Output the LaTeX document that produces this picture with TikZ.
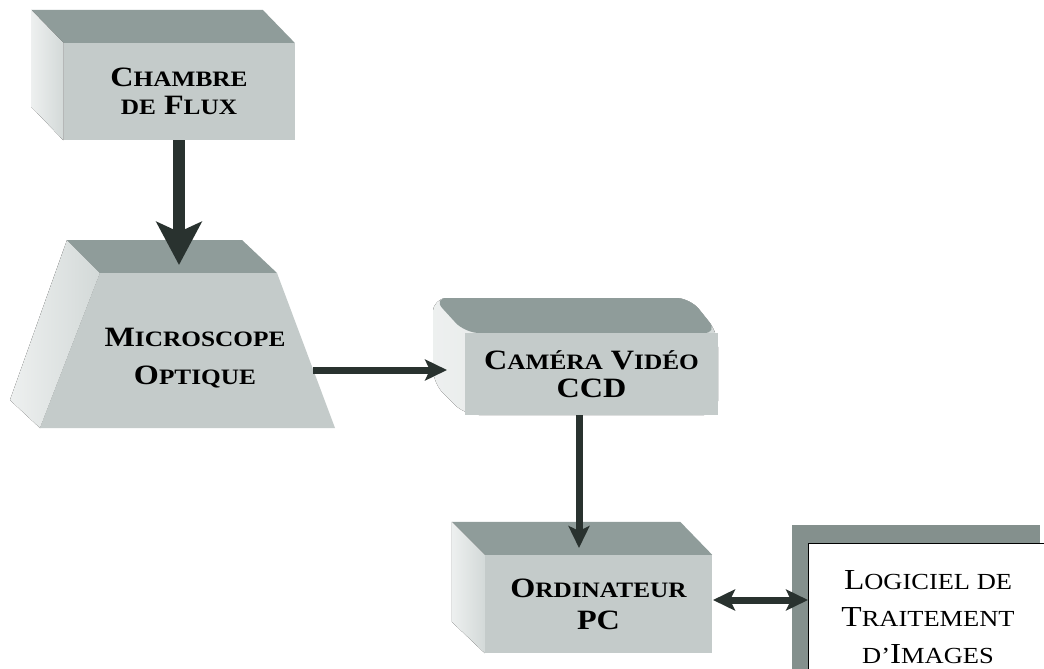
\documentclass[tikz,border=0pt]{standalone}
\usepackage{fontspec}
\newfontfamily\boxfont{Liberation Serif}[FakeStretch=1.15]
\usepackage{xcolor}
\usetikzlibrary{positioning}
\usetikzlibrary{arrows.meta}
\definecolor{frontgray}{HTML}{C4CBCA}
\definecolor{topgray}{HTML}{8F9C9A}
\definecolor{sidegray}{HTML}{D3D9D8}
\definecolor{arrowgray}{HTML}{29322F}
\definecolor{shadowgray}{HTML}{84908D}
\newcommand{\sk}[1]{{\fontsize{22}{30}\selectfont #1}}
\newcommand{\lsk}[1]{{\fontsize{23}{37}\selectfont #1}}
\tikzset{boxface/.style={fill=frontgray, inner sep=0pt, align=center,
font=\boxfont\bfseries\fontsize{28}{28}\selectfont},
topface/.style={fill=topgray},
sideface/.style={left color=sidegray!40!white, right color=sidegray},
flow/.style={draw=arrowgray, line width=7pt, -{Stealth[length=22pt,width=21pt,inset=5pt]}},
dualflow/.style={draw=arrowgray, line width=7pt,
{Stealth[length=22pt,width=21pt,inset=5pt]}-{Stealth[length=22pt,width=21pt,inset=5pt]}},
heavyflow/.style={draw=arrowgray, line width=12pt, -{Stealth[length=43pt,width=45pt,inset=10pt]}}}
\begin{document}
\begin{tikzpicture}[x=1pt, y=-1pt]
\clip (0,0) rectangle (1044,669);
\fill[white] (0,0) rectangle (1044,669);

\node[boxface, minimum width=231pt, minimum height=97pt] (chambre) at (179,91.5)
	{C\sk{HAMBRE}\\\sk{DE} F\sk{LUX}};
\fill[topface] (chambre.north west) -- ++(-32,-33)
	-- ([xshift=-32pt,yshift=33pt]chambre.north east) -- (chambre.north east) -- cycle;
\fill[sideface] (chambre.north west) -- ++(-32,-33) -- ++(0,97) -- (chambre.south west) -- cycle;

\fill[sideface] (67,240) -- (100,273) -- (40,428) -- (10,400) -- cycle;
\fill[topface] (67,240) -- (242,240) -- (277,273) -- (100,273) -- cycle;
\fill[frontgray] (100,273) -- (277,273) -- (335,428) -- (40,428) -- cycle;
\node[boxface, fill=none] (micro) at (195,358) {M\sk{ICROSCOPE}\\[10pt]O\sk{PTIQUE}};

\fill[sideface, rounded corners=14pt] (433,298) -- (690,298) -- (718,333) -- (718,415)
	-- (465,415) -- (433,383) -- cycle;
\fill[topface, rounded corners=14pt] (433,298) -- (690,298) -- (718,333) -- (465,333) -- cycle;
\node[boxface, minimum width=253pt, minimum height=82pt] (camera) at (591.5,374)
	{C\sk{AMÉRA} V\sk{IDÉO}\\CCD};

\node[boxface, minimum width=227pt, minimum height=98pt] (ordi) at (598.5,604)
	{O\sk{RDINATEUR}\\[4pt]PC};
\fill[topface] (ordi.north west) -- ++(-33,-33)
	-- ([xshift=-32pt,yshift=33pt]ordi.north east) -- (ordi.north east) -- cycle;
\fill[sideface] (ordi.north west) -- ++(-33,-33) -- ++(0,100) -- (ordi.south west) -- cycle;

\fill[shadowgray] (792,525) rectangle (1040,690);
\node[draw=black, line width=1.2pt, fill=white, minimum width=260pt, minimum height=150pt,
	anchor=north west] (logiciel) at (808,543) {};
\node[font=\boxfont\fontsize{29}{37}\selectfont, align=center] (logtext) at (928,617)
	{L\lsk{OGICIEL DE}\\T\lsk{RAITEMENT}\\\lsk{D’}I\lsk{MAGES}};

\coordinate (micro-tip) at (179,265);
\coordinate (micro-out) at (313,370);
\coordinate (camera-in) at (447,370);
\coordinate (ordi-in) at (579,548);
\coordinate (ordi-out) at (713,600);
\draw[heavyflow] (chambre.south) -- (micro-tip);
\draw[flow] (micro-out) -- (camera-in);
\draw[flow] (camera.south -| ordi-in) -- (ordi-in);
\draw[dualflow] (ordi-out) -- (ordi-out -| logiciel.west);
\end{tikzpicture}
\end{document}
